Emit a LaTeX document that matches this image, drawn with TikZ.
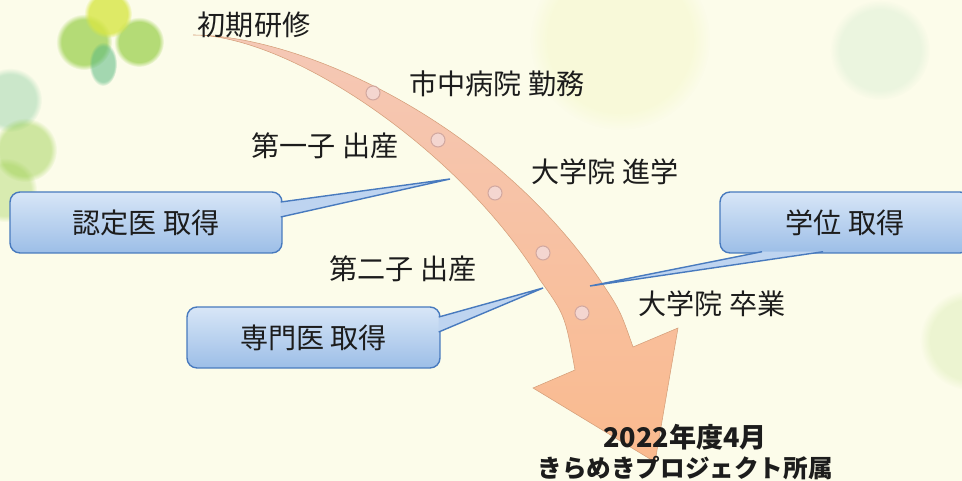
\documentclass[tikz,border=0pt]{standalone}
\usepackage{fontspec}
\newfontfamily\jp{Noto Sans CJK JP}
\usetikzlibrary{calc,fadings}

\definecolor{bgcream}{RGB}{252,252,234}
\definecolor{leafgreen}{RGB}{150,205,70}
\definecolor{leafyellow}{RGB}{215,230,70}
\definecolor{leafteal}{RGB}{90,185,130}
\definecolor{arrowtop}{RGB}{245,200,182}
\definecolor{arrowbot}{RGB}{250,186,142}
\definecolor{boxtop}{RGB}{216,230,247}
\definecolor{boxbot}{RGB}{156,190,231}
\definecolor{boxline}{RGB}{72,122,190}
\definecolor{tailfill}{RGB}{190,212,240}
\definecolor{dotfill}{RGB}{244,214,208}
\definecolor{dotline}{RGB}{210,168,160}
\definecolor{txt}{RGB}{28,28,28}

\begin{document}
\begin{tikzpicture}[scale=0.1]
        \tikzstyle{every node}+=[inner sep=0pt]
        \tikzstyle{event}=[font=\jp\fontsize{8}{9.6}\selectfont, text=txt]
        \tikzstyle{bubble}=[rounded corners=1mm, top color=boxtop, bottom color=boxbot, draw=boxline, line width=0.4pt, minimum height=6.1mm, font=\jp\fontsize{8}{9.6}\selectfont, text=txt]
        \tikzstyle{bubbletail}=[fill=tailfill, draw=boxline, line width=0.4pt]
        \tikzstyle{stud}=[fill=dotfill, draw=dotline, line width=0.3pt]
        \tikzstyle{blur}=[path fading=circle with fuzzy edge 20 percent]
        \clip (0,0) rectangle (96.2,-48.1);
        % background and blurred leaves
        \fill [bgcream] (0,0) rectangle (96.2,-48.1);
        \fill [leafgreen, blur, opacity=.7] (8.4,-4.2) circle (2.8);
        \fill [leafgreen, blur, opacity=.7] (13.9,-4.2) circle (2.5);
        \fill [leafyellow, blur, opacity=.8] (10.8,-1.4) circle (2.4);
        \fill [leafteal, blur, opacity=.55] (10.3,-6.4) ellipse (1.4 and 2.2);
        \fill [leafteal, blur, opacity=.3] (1.0,-10.0) circle (3.2);
        \fill [leafgreen, blur, opacity=.45] (2.5,-15.0) circle (3.2);
        \fill [leafgreen, blur, opacity=.35] (0.5,-19.0) circle (3.2);
        \fill [leafyellow, blur, opacity=.1] (62.0,-4.0) circle (9);
        \fill [leafteal, blur, opacity=.1] (88.0,-5.0) circle (5);
        \fill [leafgreen, blur, opacity=.15] (97.0,-34.0) circle (5);
        % curved arrow
        \shade [top color=arrowtop, bottom color=arrowbot, draw=arrowbot!85!black, line width=0.15pt]
                (19.3,-3.5) .. controls (30.0,-3.5) and (49.0,-12.0) .. (60.0,-28.0)
                .. controls (62.0,-31.0) .. (63.3,-34.7) -- (67.8,-32.8) -- (65.5,-46.2)
                -- (53.3,-38.8) -- (57.5,-37.0) .. controls (56.5,-31.5) .. (54.0,-28.0)
                .. controls (46.0,-15.0) and (29.0,-3.5) .. (19.3,-3.5) -- cycle;
        \foreach \p in {(37.3,-9.3),(43.8,-14.0),(49.5,-19.3),(54.3,-25.3),(58.2,-31.3)}
                \draw [stud] \p circle (0.7);
        % callouts
        \node [bubble, minimum width=27.2mm] (nintei) at (14.6,-22.25) {認定医 取得};
        \node [bubble, minimum width=25.3mm] (senmon) at (31.35,-33.75) {専門医 取得};
        \node [bubble, minimum width=25.0mm] (gakui) at (84.5,-22.25) {学位 取得};
        \coordinate (ninteitip) at (45.0,-17.9);
        \coordinate (senmontip) at (54.3,-28.8);
        \coordinate (gakuitip) at (59.0,-28.6);
        \draw [bubbletail] ($(nintei.east)+(-0.2,2.05)$) -- (ninteitip) -- ($(nintei.east)+(-0.2,0.55)$);
        \draw [bubbletail] ($(senmon.east)+(-0.2,2.05)$) -- (senmontip) -- ($(senmon.east)+(-0.2,0.55)$);
        \draw [bubbletail] ($(gakui.south)+(-8.3,0.2)$) -- (gakuitip) -- ($(gakui.south)+(-2.2,0.2)$);
        % career steps
        \node [event] (shoki) at (25.4,-2.5) {初期研修};
        \node [event] (shichu) at (49.7,-8.4) {市中病院 勤務};
        \node [event] (daiichi) at (32.5,-14.6) {第一子 出産};
        \node [event] (shingaku) at (60.5,-17.2) {大学院 進学};
        \node [event] (daini) at (40.3,-26.9) {第二子 出産};
        \node [event] (sotsugyo) at (71.2,-30.4) {大学院 卒業};
        \node [font=\jp\bfseries\fontsize{7.7}{9}\selectfont, text=txt] (year) at (68.5,-43.7) {2022年度4月};
        \node [font=\jp\bfseries\fontsize{7.0}{9}\selectfont, text=txt] (kirameki) at (68.5,-46.8) {きらめきプロジェクト所属};
\end{tikzpicture}
\end{document}
